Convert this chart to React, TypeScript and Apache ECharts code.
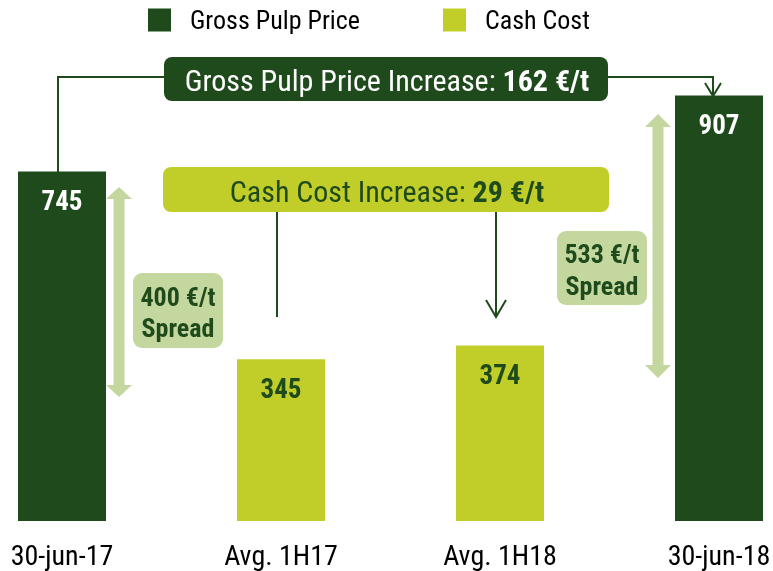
import React, { useEffect, useRef } from "react";
import * as echarts from "echarts";

const categories = ["30-jun-17", "Avg. 1H17", "Avg. 1H18", "30-jun-18"];
const grossPulpPrice = [745, "-", "-", 907];
const cashCost = ["-", 345, 374, "-"];
const seriesNames = ["Gross Pulp Price", "Cash Cost"];
const priceIncrease = "162 €/t";
const costIncrease = "29 €/t";
const spreads = ["400 €/t", "533 €/t"];

const DARK = "#1f4a1c";
const LIME = "#c1ce2a";
const LIGHT = "#c4d79e";
const FONT = "'Roboto Condensed', 'Liberation Sans Narrow', 'Arial Narrow', sans-serif";

function doubleArrow(cx: number, top: number, bottom: number, head: number) {
  const sw = 5.5;
  const hw = 13;
  return [
    [cx, top],
    [cx + hw, top + head],
    [cx + sw, top + head],
    [cx + sw, bottom - head],
    [cx + hw, bottom - head],
    [cx, bottom],
    [cx - hw, bottom - head],
    [cx - sw, bottom - head],
    [cx - sw, top + head],
    [cx - hw, top + head],
  ];
}

export default function App() {
  const ref = useRef<HTMLDivElement>(null);
  useEffect(() => {
    const chart = echarts.init(ref.current!, null, { renderer: "svg" });
    chart.setOption({
      animation: false,
      textStyle: { fontFamily: FONT },
      legend: {
        data: seriesNames,
        left: 143,
        top: 2,
        icon: "rect",
        itemWidth: 23,
        itemHeight: 23,
        itemGap: 83,
        textStyle: { fontSize: 26, color: "#000", fontFamily: FONT, padding: [0, 0, 0, 14] },
        selectedMode: false,
      },
      grid: { left: 62, right: 54, top: 52, bottom: 50, outerBoundsMode: "none", containLabel: false },
      xAxis: {
        type: "category",
        data: categories,
        boundaryGap: false,
        axisLine: { show: false },
        axisTick: { show: false },
        axisLabel: { fontSize: 28, lineHeight: 28, color: "#000", fontFamily: FONT, margin: 20 },
      },
      yAxis: { type: "value", min: 0, max: 1000, show: false, splitLine: { show: false } },
      series: [
        {
          name: seriesNames[0],
          type: "bar",
          stack: "s",
          data: grossPulpPrice,
          barWidth: 88,
          clip: false,
          itemStyle: { color: DARK },
          label: {
            show: true,
            position: "insideTop",
            distance: 16,
            color: "#fff",
            fontSize: 27,
            fontWeight: "bold",
            fontFamily: FONT,
          },
        },
        {
          name: seriesNames[1],
          type: "bar",
          stack: "s",
          data: cashCost,
          barWidth: 88,
          clip: false,
          itemStyle: { color: LIME },
          label: {
            show: true,
            position: "insideTop",
            distance: 16,
            color: DARK,
            fontSize: 27,
            fontWeight: "bold",
            fontFamily: FONT,
          },
        },
      ],
      graphic: [
        // Gross pulp price connector
        { type: "polyline", shape: { points: [[58, 172], [58, 77], [164, 77]] }, style: { stroke: DARK, lineWidth: 2, fill: null } },
        { type: "polyline", shape: { points: [[608, 77], [713, 77], [713, 96]] }, style: { stroke: DARK, lineWidth: 2, fill: null } },
        { type: "polyline", shape: { points: [[705, 83], [713, 96], [721, 83]] }, style: { stroke: DARK, lineWidth: 2, fill: null } },
        { type: "rect", shape: { x: 164, y: 57, width: 444, height: 44, r: 8 }, style: { fill: DARK } },
        {
          type: "text",
          x: 387,
          y: 80,
          style: {
            text: "Gross Pulp Price Increase: {b|" + priceIncrease + "}",
            fill: "#fff",
            fontSize: 30,
            fontFamily: FONT,
            align: "center",
            verticalAlign: "middle",
            rich: { b: { fontWeight: "bold", fontSize: 30, fontFamily: FONT, fill: "#fff" } },
          },
        },
        // Cash cost connector
        { type: "line", shape: { x1: 277, y1: 212, x2: 277, y2: 317 }, style: { stroke: DARK, lineWidth: 2 } },
        { type: "line", shape: { x1: 496, y1: 212, x2: 496, y2: 317 }, style: { stroke: DARK, lineWidth: 2 } },
        { type: "polyline", shape: { points: [[486, 300], [496, 317], [506, 300]] }, style: { stroke: DARK, lineWidth: 2, fill: null } },
        { type: "rect", shape: { x: 163, y: 167, width: 446, height: 45, r: 8 }, style: { fill: LIME } },
        {
          type: "text",
          x: 387,
          y: 191,
          style: {
            text: "Cash Cost Increase: {b|" + costIncrease + "}",
            fill: DARK,
            fontSize: 30,
            fontFamily: FONT,
            align: "center",
            verticalAlign: "middle",
            rich: { b: { fontWeight: "bold", fontSize: 30, fontFamily: FONT, fill: DARK } },
          },
        },
        // Spread arrows
        { type: "polygon", shape: { points: doubleArrow(119, 187, 397, 12) }, style: { fill: LIGHT } },
        { type: "polygon", shape: { points: doubleArrow(658, 114, 378, 13) }, style: { fill: LIGHT } },
        { type: "rect", shape: { x: 133, y: 273, width: 90, height: 75, r: 9 }, style: { fill: LIGHT } },
        {
          type: "text",
          x: 178,
          y: 312,
          style: {
            text: spreads[0] + "\nSpread",
            fill: DARK,
            fontSize: 26,
            fontWeight: "bold",
            fontFamily: FONT,
            lineHeight: 31,
            align: "center",
            verticalAlign: "middle",
          },
        },
        { type: "rect", shape: { x: 557, y: 231, width: 90, height: 74, r: 9 }, style: { fill: LIGHT } },
        {
          type: "text",
          x: 602,
          y: 270,
          style: {
            text: spreads[1] + "\nSpread",
            fill: DARK,
            fontSize: 26,
            fontWeight: "bold",
            fontFamily: FONT,
            lineHeight: 32,
            align: "center",
            verticalAlign: "middle",
          },
        },
      ],
    });
    return () => chart.dispose();
  }, []);
  return <div ref={ref} style={{ position: "fixed", left: 0, top: 0, width: 773, height: 571 }} />;
}
